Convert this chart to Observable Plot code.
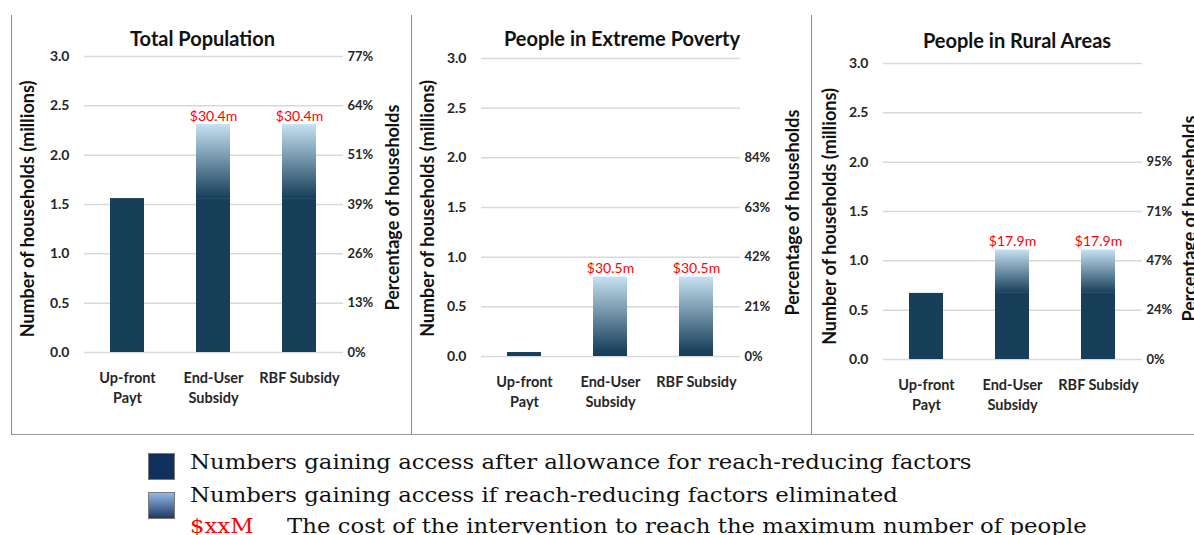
<!DOCTYPE html>
<html>
<head>
<meta charset="utf-8">
<script src="https://cdn.jsdelivr.net/npm/d3@7"></script>
<script src="https://cdn.jsdelivr.net/npm/@observablehq/plot@0.6"></script>
<style>
  html, body { margin: 0; padding: 0; background: #fff; overflow: hidden; }
  #page { position: relative; width: 1194px; height: 535px; overflow: hidden; }
  .panel { position: absolute; top: 0; width: 400px; height: 434px; }
  .panel svg { max-width: none !important; }
  .vline { position: absolute; top: 15px; width: 0; height: 420px; border-left: 1.5px solid #8c8c8c; }
  .hline { position: absolute; left: 12px; top: 434px; width: 1182px; height: 0; border-top: 1.5px solid #9a9a9a; }
  .legend { position: absolute; left: 0; top: 0; font-family: "DejaVu Serif", serif; font-size: 20px; color: #111; white-space: nowrap; }
  .swatch { position: absolute; width: 27px; height: 27px; box-sizing: border-box; border: 1px solid #7a7a7a; }
  .ltext { position: absolute; line-height: 1; transform: scaleX(1.14); transform-origin: 0 0; }
</style>
</head>
<body>
<div id="page"></div>
<script>
// Panels, categories and values (millions of households)
const panels = ["Total Population", "People in Extreme Poverty", "People in Rural Areas"];
const categories = ["Up-front Payt", "End-User Subsidy", "RBF Subsidy"];
const categoryLabels = ["Up-front\nPayt", "End-User\nSubsidy", "RBF Subsidy"];

// households reached after reach-reducing factors
const reached = [
  [1.56, 1.56, 1.56],
  [0.04, 0.04, 0.04],
  [0.67, 0.67, 0.67]
];
// households reached if reach-reducing factors are eliminated
const potential = [
  [null, 2.31, 2.31],
  [null, 0.80, 0.80],
  [null, 1.11, 1.11]
];
// cost of the intervention, $ millions
const costs = [
  [null, 30.4, 30.4],
  [null, 30.5, 30.5],
  [null, 17.9, 17.9]
];

const yTicks = [0, 0.5, 1, 1.5, 2, 2.5, 3];
// right-hand percentage labels, one per y tick from 0 upwards
const pctTicks = [
  ["0%", "13%", "26%", "39%", "51%", "64%", "77%"],
  ["0%", "21%", "42%", "63%", "84%"],
  ["0%", "24%", "47%", "71%", "95%"]
];
const yTitle = "Number of households (millions)";
const pctTitle = "Percentage of households";

const legendItems = [
  "Numbers gaining access after allowance for reach-reducing factors",
  "Numbers gaining access if reach-reducing factors eliminated"
];
const costKey = "$xxM";
const costText = "The cost of the intervention to reach the maximum number of people";

// Layout of each panel
const layout = [
  {left: 12,  ml: 72, mr: 69, mt: 56, mb: 82, tdx: -11.5, tdy: -25, ydx: -56, ydy: 4.5, pdx: 50, pdy: 3},
  {left: 412, ml: 69, mr: 72, mt: 58, mb: 78, tdx: 11,    tdy: -27, ydx: -53, ydy: 1,   pdx: 53, pdy: 5},
  {left: 812, ml: 71, mr: 70, mt: 63, mb: 75, tdx: 4,     tdy: -29.5, ydx: -53, ydy: 5, pdx: 48, pdy: 7}
];

const dark = "#173f5a";
const light = "#c6e1f2";
const ink = "#262626";
const page = document.getElementById("page");

panels.forEach((title, p) => {
  const L = layout[p];
  const rows = categories.map((c, i) => ({
    cat: c, reached: reached[p][i], potential: potential[p][i], cost: costs[p][i]
  }));
  const pctMap = new Map(pctTicks[p].map((t, i) => [yTicks[i], t]));
  const gradId = `grad-${p}`;

  const chart = Plot.plot({
    width: 400,
    height: 434,
    marginLeft: L.ml, marginRight: L.mr, marginTop: L.mt, marginBottom: L.mb,
    style: {fontFamily: "Lato, sans-serif", overflow: "visible", background: "transparent"},
    x: {domain: categories, paddingInner: 0.6, paddingOuter: 0.3},
    y: {domain: [0, 3]},
    marks: [
      Plot.gridY(yTicks, {stroke: "#d9d9d9", strokeOpacity: 1, strokeWidth: 1.5}),
      Plot.barY(rows, {x: "cat", y1: 0, y2: "reached", fill: dark}),
      Plot.barY(rows.filter(d => d.potential != null), {x: "cat", y1: "reached", y2: "potential", fill: `url(#${gradId})`}),
      Plot.text(rows.filter(d => d.cost != null), {
        x: "cat", y: "potential", text: d => `$${d.cost.toFixed(1)}m`,
        lineAnchor: "bottom", dy: -4, fill: "#ff0000", fontSize: 14
      }),
      Plot.axisY(yTicks, {
        anchor: "left", tickSize: 0, tickPadding: 15, tickFormat: d3.format(".1f"),
        label: null, fontSize: 14, fontWeight: "bold", fill: ink
      }),
      Plot.axisY(pctTicks[p].map((_, i) => yTicks[i]), {
        anchor: "right", tickSize: 0, tickPadding: 4, tickFormat: d => pctMap.get(d),
        label: null, fontSize: 13, fontWeight: "bold", fill: ink
      }),
      Plot.axisX({
        tickSize: 0, tickPadding: 16, label: null,
        tickFormat: d => categoryLabels[categories.indexOf(d)],
        fontSize: 14.5, fontWeight: "bold", lineHeight: 1.4, fill: ink
      }),
      Plot.text([title], {
        frameAnchor: "top", dx: L.tdx, dy: L.tdy, fontSize: 20, fontWeight: "bold", fill: "#111"
      }),
      Plot.text([yTitle], {
        frameAnchor: "left", textAnchor: "middle", rotate: -90, dx: L.ydx, dy: L.ydy,
        fontSize: 18, fontWeight: "bold", fill: "#111"
      }),
      Plot.text([pctTitle], {
        frameAnchor: "right", textAnchor: "middle", rotate: -90, dx: L.pdx, dy: L.pdy,
        fontSize: 18, fontWeight: "bold", fill: "#111"
      })
    ]
  });

  // vertical gradient from dark (bottom) to light (top) for the "eliminated" segment
  const defs = d3.create("svg:defs");
  const g = defs.append("linearGradient").attr("id", gradId)
    .attr("x1", 0).attr("y1", 1).attr("x2", 0).attr("y2", 0);
  g.append("stop").attr("offset", "0%").attr("stop-color", dark);
  g.append("stop").attr("offset", "100%").attr("stop-color", light);
  chart.insertBefore(defs.node(), chart.firstChild);

  const wrap = document.createElement("div");
  wrap.className = "panel";
  wrap.style.left = L.left + "px";
  wrap.appendChild(chart);
  page.appendChild(wrap);

  const v = document.createElement("div");
  v.className = "vline";
  v.style.left = (L.left - 0.75) + "px";
  page.appendChild(v);
});

const h = document.createElement("div");
h.className = "hline";
page.appendChild(h);

// Legend
const legend = document.createElement("div");
legend.className = "legend";
legend.innerHTML = `
  <div class="swatch" style="left:148px;top:453px;background:#12305e;"></div>
  <div class="swatch" style="left:148px;top:492px;background:linear-gradient(#92b8e8,#1e3a62);"></div>
  <div class="ltext" style="left:190px;top:452px;">${legendItems[0]}</div>
  <div class="ltext" style="left:190px;top:485px;">${legendItems[1]}</div>
  <div class="ltext" style="left:190px;top:516px;color:#ff0000;">${costKey}</div>
  <div class="ltext" style="left:287px;top:516px;">${costText}</div>
`;
page.appendChild(legend);
</script>
</body>
</html>
